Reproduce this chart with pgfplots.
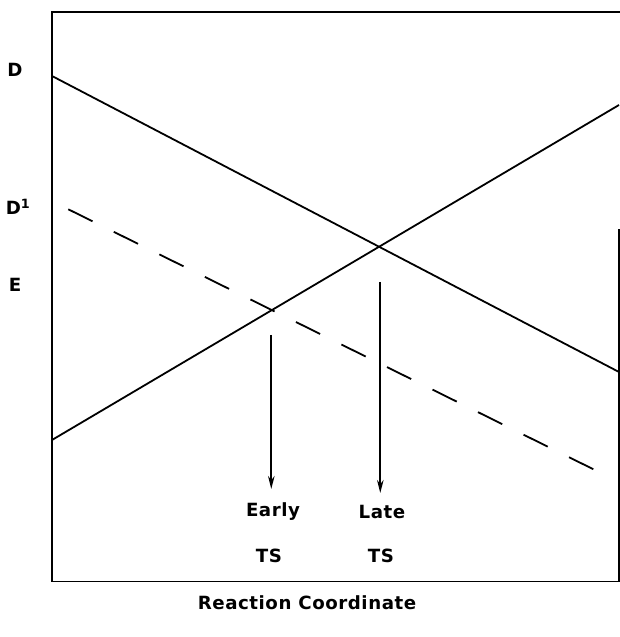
\documentclass[border=0pt]{standalone}
\usepackage{pgfplots}
\pgfplotsset{compat=1.18}
\usepackage{fontspec}
\setmainfont{DejaVu Sans}[LetterSpace=3]
\usetikzlibrary{arrows.meta}
\begin{document}
\begin{tikzpicture}
\begin{axis}[
  scale only axis,
  width=567pt, height=569.5pt,
  xmin=52, xmax=619, ymin=55.5, ymax=625,
  axis lines=none,
  ticks=none,
  clip=false,
  every axis plot/.append style={line width=1.8pt, black},
]
% frame (right side only partly drawn, as in the original)
\draw[line width=1.8pt, line cap=rect] (rel axis cs:1,0.6175) -- (rel axis cs:1,0) -- (rel axis cs:0,0) -- (rel axis cs:0,1) -- (rel axis cs:1,1);
% solid descending line
\addplot[no marks] coordinates {(52,561) (619,265)};
% solid ascending line
\addplot[no marks] coordinates {(52,197) (619,532)};
% dashed line
\addplot[no marks, dash pattern=on 27pt off 23.8pt] coordinates {(68.3,427.7) (598.3,165.3)};
% arrows
\addplot[no marks, -{Stealth[length=13pt,width=6.5pt]}] coordinates {(271.3,302) (271.3,148)};
\addplot[no marks, -{Stealth[length=13pt,width=6.5pt]}] coordinates {(380.3,355) (380.3,144)};
\node[font=\fontsize{18.2}{20}\selectfont\bfseries] at (axis cs:273,125) {Early};
\node[font=\fontsize{18.2}{20}\selectfont\bfseries] at (axis cs:269,81) {TS};
\node[font=\fontsize{18.2}{20}\selectfont\bfseries] at (axis cs:382,125) {Late};
\node[font=\fontsize{18.2}{20}\selectfont\bfseries] at (axis cs:381,81) {TS};
\node[font=\fontsize{18.2}{20}\selectfont\bfseries] at (axis cs:307,34) {Reaction Coordinate};
\node[font=\fontsize{18.2}{20}\selectfont\bfseries] at (axis cs:15,567) {D};
\node[font=\fontsize{18.2}{20}\selectfont\bfseries] at (axis cs:18,430) {D$^{\mathbf{1}}$};
\node[font=\fontsize{18.2}{20}\selectfont\bfseries] at (axis cs:15,352) {E};
\end{axis}
\path ([shift={(-52pt,-55.5pt)}]current axis.south west) rectangle ([shift={(1pt,12pt)}]current axis.north east);
\end{tikzpicture}
\end{document}
